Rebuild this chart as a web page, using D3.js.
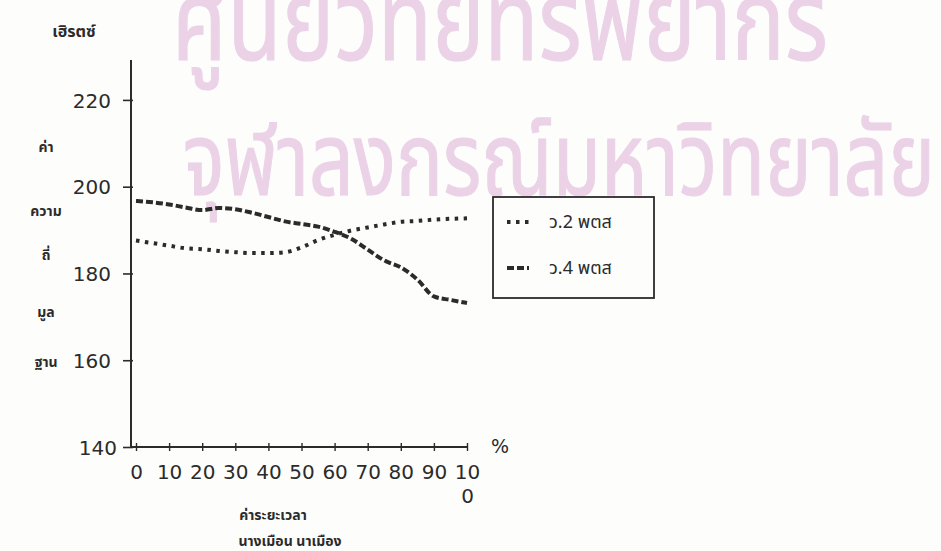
<!DOCTYPE html>
<html>
<head>
<meta charset="utf-8">
<script src="https://cdn.jsdelivr.net/npm/d3@7"></script>
<style>
html,body{margin:0;padding:0;background:#fdfdfc;}
svg{display:block;}
</style>
</head>
<body>
<svg id="chart" width="941" height="551"></svg>
<script>
// ---- data ----
const xPercent = [0,5,10,15,20,25,30,35,40,45,50,55,60,65,70,75,80,85,90,95,100];
const seriesV2 = [187.6,187.0,186.4,185.8,185.6,185.2,184.9,184.7,184.7,184.9,186.0,187.7,188.9,189.9,190.6,191.3,191.9,192.1,192.4,192.6,192.7];
const seriesV4 = [196.7,196.4,195.9,195.2,194.6,195.1,194.8,194.0,193.0,192.0,191.4,190.8,189.6,188.0,185.5,183.0,181.4,178.6,174.7,173.9,173.2];
const seriesNames = ["ว.2 พตส", "ว.4 พตส"];
const xTicks = [0,10,20,30,40,50,60,70,80,90,100];
const yTicks = [140,160,180,200,220];
const yUnit = "เฮิรตซ์";
const yTitleWords = ["ค่า","ความ","ถี่","มูล","ฐาน"];
const xTitle = ["ค่าระยะเวลา","นางเมือน นาเมือง"];
const xUnit = "%";
const watermark = ["ศูนย์วิทยทรัพยากร","จุฬาลงกรณ์มหาวิทยาลัย"];

const svg = d3.select("#chart");
const ink = "#2b2b2b";
const thaiFont = "'Noto Sans Thai','Noto Sans','DejaVu Sans',sans-serif";
const numFont = "'DejaVu Sans','Liberation Sans',sans-serif";

// watermark
const wmColor = "#ebd2e7";
const wm = svg.append("g").attr("fill",wmColor).attr("stroke",wmColor).attr("stroke-width",1.2)
  .attr("font-family",thaiFont);
wm.append("text").attr("x",172).attr("y",60).attr("font-size",112)
  .attr("textLength",656).attr("lengthAdjust","spacingAndGlyphs").text(watermark[0]);
wm.append("text").attr("x",183).attr("y",195).attr("font-size",102)
  .attr("textLength",752).attr("lengthAdjust","spacingAndGlyphs").text(watermark[1]);

const x = d3.scaleLinear().domain([0,100]).range([136,467]);
const y = d3.scaleLinear().domain([140,229.2]).range([447,60]);

// y axis
const yAxis = svg.append("g").attr("transform","translate(131,0)")
  .call(d3.axisLeft(y).tickValues(yTicks).tickSize(8).tickPadding(12));
yAxis.select(".domain").attr("stroke",ink).attr("stroke-width",2).attr("d",`M0,${y(229.2)}V${y(140)}`);
yAxis.selectAll(".tick line").attr("stroke",ink).attr("stroke-width",1.6).attr("x1",2);
yAxis.selectAll(".tick text").attr("fill",ink).attr("font-family",numFont).attr("font-size",20)
  .attr("dy","0.36em").filter(d=>d===140).attr("x",-14);

// x axis
const xAxis = svg.append("g").attr("transform","translate(0,447)")
  .call(d3.axisBottom(x).tickValues(xTicks).tickSize(4).tickFormat(""));
xAxis.select(".domain").attr("stroke",ink).attr("stroke-width",2).attr("d",`M131,0H${x(100)}`);
xAxis.selectAll(".tick line").attr("stroke",ink).attr("stroke-width",1.4).attr("y1",-4).attr("y2",4);
xAxis.selectAll(".tick").each(function(d){
  const g = d3.select(this);
  const s = String(d);
  const t = g.append("text").attr("fill",ink).attr("font-family",numFont).attr("font-size",20)
    .attr("text-anchor","middle");
  if (s.length === 3) {
    t.append("tspan").attr("x",0).attr("y",32).text(s.slice(0,2));
    t.append("tspan").attr("x",0).attr("y",56).text(s.slice(2));
  } else {
    t.attr("y",32).text(s);
  }
});
svg.append("text").attr("x",500).attr("y",453).attr("text-anchor","middle")
  .attr("font-family",numFont).attr("font-size",19).attr("fill",ink).text(xUnit);

// titles
svg.append("text").attr("x",74).attr("y",37).attr("text-anchor","middle")
  .attr("font-family",thaiFont).attr("font-size",16).attr("font-weight","bold").attr("fill",ink).text(yUnit);
const yWordY = [152,216,260,317,367];
yTitleWords.forEach((w,i)=>{
  svg.append("text").attr("x",46).attr("y",yWordY[i]).attr("text-anchor","middle")
    .attr("font-family",thaiFont).attr("font-size",14).attr("font-weight","bold").attr("fill",ink).text(w);
});
svg.append("text").attr("x",273).attr("y",520).attr("text-anchor","middle")
  .attr("font-family",thaiFont).attr("font-size",14).attr("font-weight","bold").attr("fill",ink).text(xTitle[0]);
svg.append("text").attr("x",290).attr("y",546).attr("text-anchor","middle")
  .attr("font-family",thaiFont).attr("font-size",14).attr("font-weight","bold").attr("fill",ink).text(xTitle[1]);

// lines
const line = d3.line().x((d,i)=>x(xPercent[i])).y(d=>y(d)).curve(d3.curveMonotoneX);
const styles = [
  {dash:"3.5,5.5", w:4},
  {dash:"7,3", w:4}
];
[seriesV2, seriesV4].forEach((s,k)=>{
  svg.append("path").datum(s).attr("d",line).attr("fill","none")
    .attr("stroke",ink).attr("stroke-width",styles[k].w)
    .attr("stroke-dasharray",styles[k].dash);
});

// legend
const lg = svg.append("g");
lg.append("rect").attr("x",493).attr("y",197).attr("width",161).attr("height",101)
  .attr("fill","#fdfdfc").attr("stroke",ink).attr("stroke-width",1.8);
[222,268].forEach((ly,k)=>{
  lg.append("line").attr("x1",507).attr("x2",529).attr("y1",ly).attr("y2",ly)
    .attr("stroke",ink).attr("stroke-width",styles[k].w).attr("stroke-dasharray",styles[k].dash);
  lg.append("text").attr("x",549).attr("y",ly+6).attr("font-family",thaiFont).attr("font-size",18)
    .attr("fill",ink).text(seriesNames[k]);
});
</script>
</body>
</html>
